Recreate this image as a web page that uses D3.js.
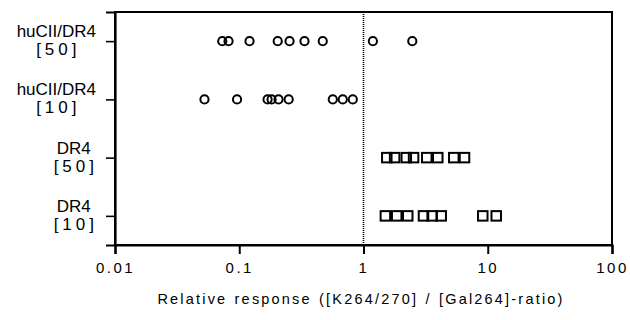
<!DOCTYPE html>
<html>
<head>
<meta charset="utf-8">
<script src="https://cdn.jsdelivr.net/npm/d3@7"></script>
<style>
  html, body { margin: 0; padding: 0; background: #fff; }
  svg { display: block; font-family: "Liberation Sans", Arial, Helvetica, sans-serif; }
</style>
</head>
<body>
<svg id="chart" width="630" height="320"></svg>
<script>
// ---- data ----
const categories = ["huCII/DR4 [50]", "huCII/DR4 [10]", "DR4 [50]", "DR4 [10]"];
const rowNames = ["huCII/DR4", "huCII/DR4", "DR4", "DR4"];
const rowDoses = ["[50]", "[10]", "[50]", "[10]"];
const rowShapes = ["circle", "circle", "square", "square"];

const huCII_50 = [0.073, 0.082, 0.121, 0.204, 0.254, 0.335, 0.47, 1.19, 2.47];
const huCII_10 = [0.0525, 0.096, 0.169, 0.182, 0.207, 0.25, 0.566, 0.681, 0.82];
const DR4_50 = [1.54, 1.78, 2.21, 2.53, 3.23, 3.96, 5.33, 6.5];
const DR4_10 = [1.5, 1.85, 2.27, 3.04, 3.57, 4.22, 9.12, 11.7];
const seriesValues = [huCII_50, huCII_10, DR4_50, DR4_10];

const xTickValues = [0.01, 0.1, 1, 10, 100];
const xTickLabels = ["0.01", "0.1", "1", "10", "100"];
const referenceValue = 1;
const xTitle = "Relative response ([K264/270] / [Gal264]-ratio)";

// ---- layout ----
const mLeft = 115, mRight = 612, mTop = 12, mBottom = 245;
const svg = d3.select("#chart");

const x = d3.scaleLog().domain([0.01, 100]).range([mLeft, mRight]);
const y = d3.scalePoint().domain(categories).range([mTop, mBottom]).padding(0.5);

// frame
svg.append("rect")
  .attr("x", mLeft).attr("y", mTop)
  .attr("width", mRight - mLeft).attr("height", mBottom - mTop)
  .attr("fill", "none").attr("stroke", "#000").attr("stroke-width", 2);

// x axis
const xAxis = d3.axisBottom(x)
  .tickValues(xTickValues)
  .tickFormat((d, i) => xTickLabels[i])
  .tickSize(9).tickPadding(8);
const gx = svg.append("g").attr("transform", `translate(0,${mBottom})`).call(xAxis);
gx.select(".domain").attr("stroke-width", 2.2);
gx.selectAll(".tick line").attr("stroke-width", 2);
gx.selectAll(".tick text")
  .attr("font-size", 15).attr("fill", "#000")
  .attr("font-family", "Liberation Sans, Arial, sans-serif")
  .style("letter-spacing", "2.5px");

// y axis
const yAxis = d3.axisLeft(y).tickFormat("").tickSize(9);
const gy = svg.append("g").attr("transform", `translate(${mLeft},0)`).call(yAxis);
gy.select(".domain").attr("stroke-width", 2.2);
gy.selectAll(".tick line").attr("stroke-width", 1.6);

// y labels: two centered lines, block right-aligned
categories.forEach((c, i) => {
  const g = svg.append("g");
  const t1 = g.append("text").attr("text-anchor", "middle").attr("y", y(c) - 4)
    .attr("font-size", 17).text(rowNames[i]);
  const t2 = g.append("text").attr("text-anchor", "middle").attr("y", y(c) + 14)
    .attr("font-size", 17).style("letter-spacing", "4px").attr("dx", 2).text(rowDoses[i]);
  const w = Math.max(t1.node().getComputedTextLength(), t2.node().getComputedTextLength());
  g.attr("transform", `translate(${96 - w / 2},0)`);
});

// reference dotted line
svg.append("line")
  .attr("x1", x(referenceValue)).attr("x2", x(referenceValue))
  .attr("y1", mTop).attr("y2", mBottom)
  .attr("stroke", "#000").attr("stroke-width", 1.6)
  .attr("stroke-dasharray", "1,1");

// points
const s = 9.5;
categories.forEach((c, i) => {
  const g = svg.append("g");
  if (rowShapes[i] === "circle") {
    g.selectAll("circle").data(seriesValues[i]).join("circle")
      .attr("cx", d => x(d)).attr("cy", y(c)).attr("r", 4.1)
      .attr("fill", "none").attr("stroke", "#000").attr("stroke-width", 2);
  } else {
    g.selectAll("rect").data(seriesValues[i]).join("rect")
      .attr("x", d => x(d) - s / 2).attr("y", y(c) - s / 2)
      .attr("width", s).attr("height", s)
      .attr("fill", "none").attr("stroke", "#000").attr("stroke-width", 2);
  }
});

// x title
svg.append("text")
  .attr("x", 361).attr("y", 304)
  .attr("text-anchor", "middle").attr("font-size", 14.5)
  .style("letter-spacing", "2.2px").style("word-spacing", "1px")
  .text(xTitle);
</script>
</body>
</html>
